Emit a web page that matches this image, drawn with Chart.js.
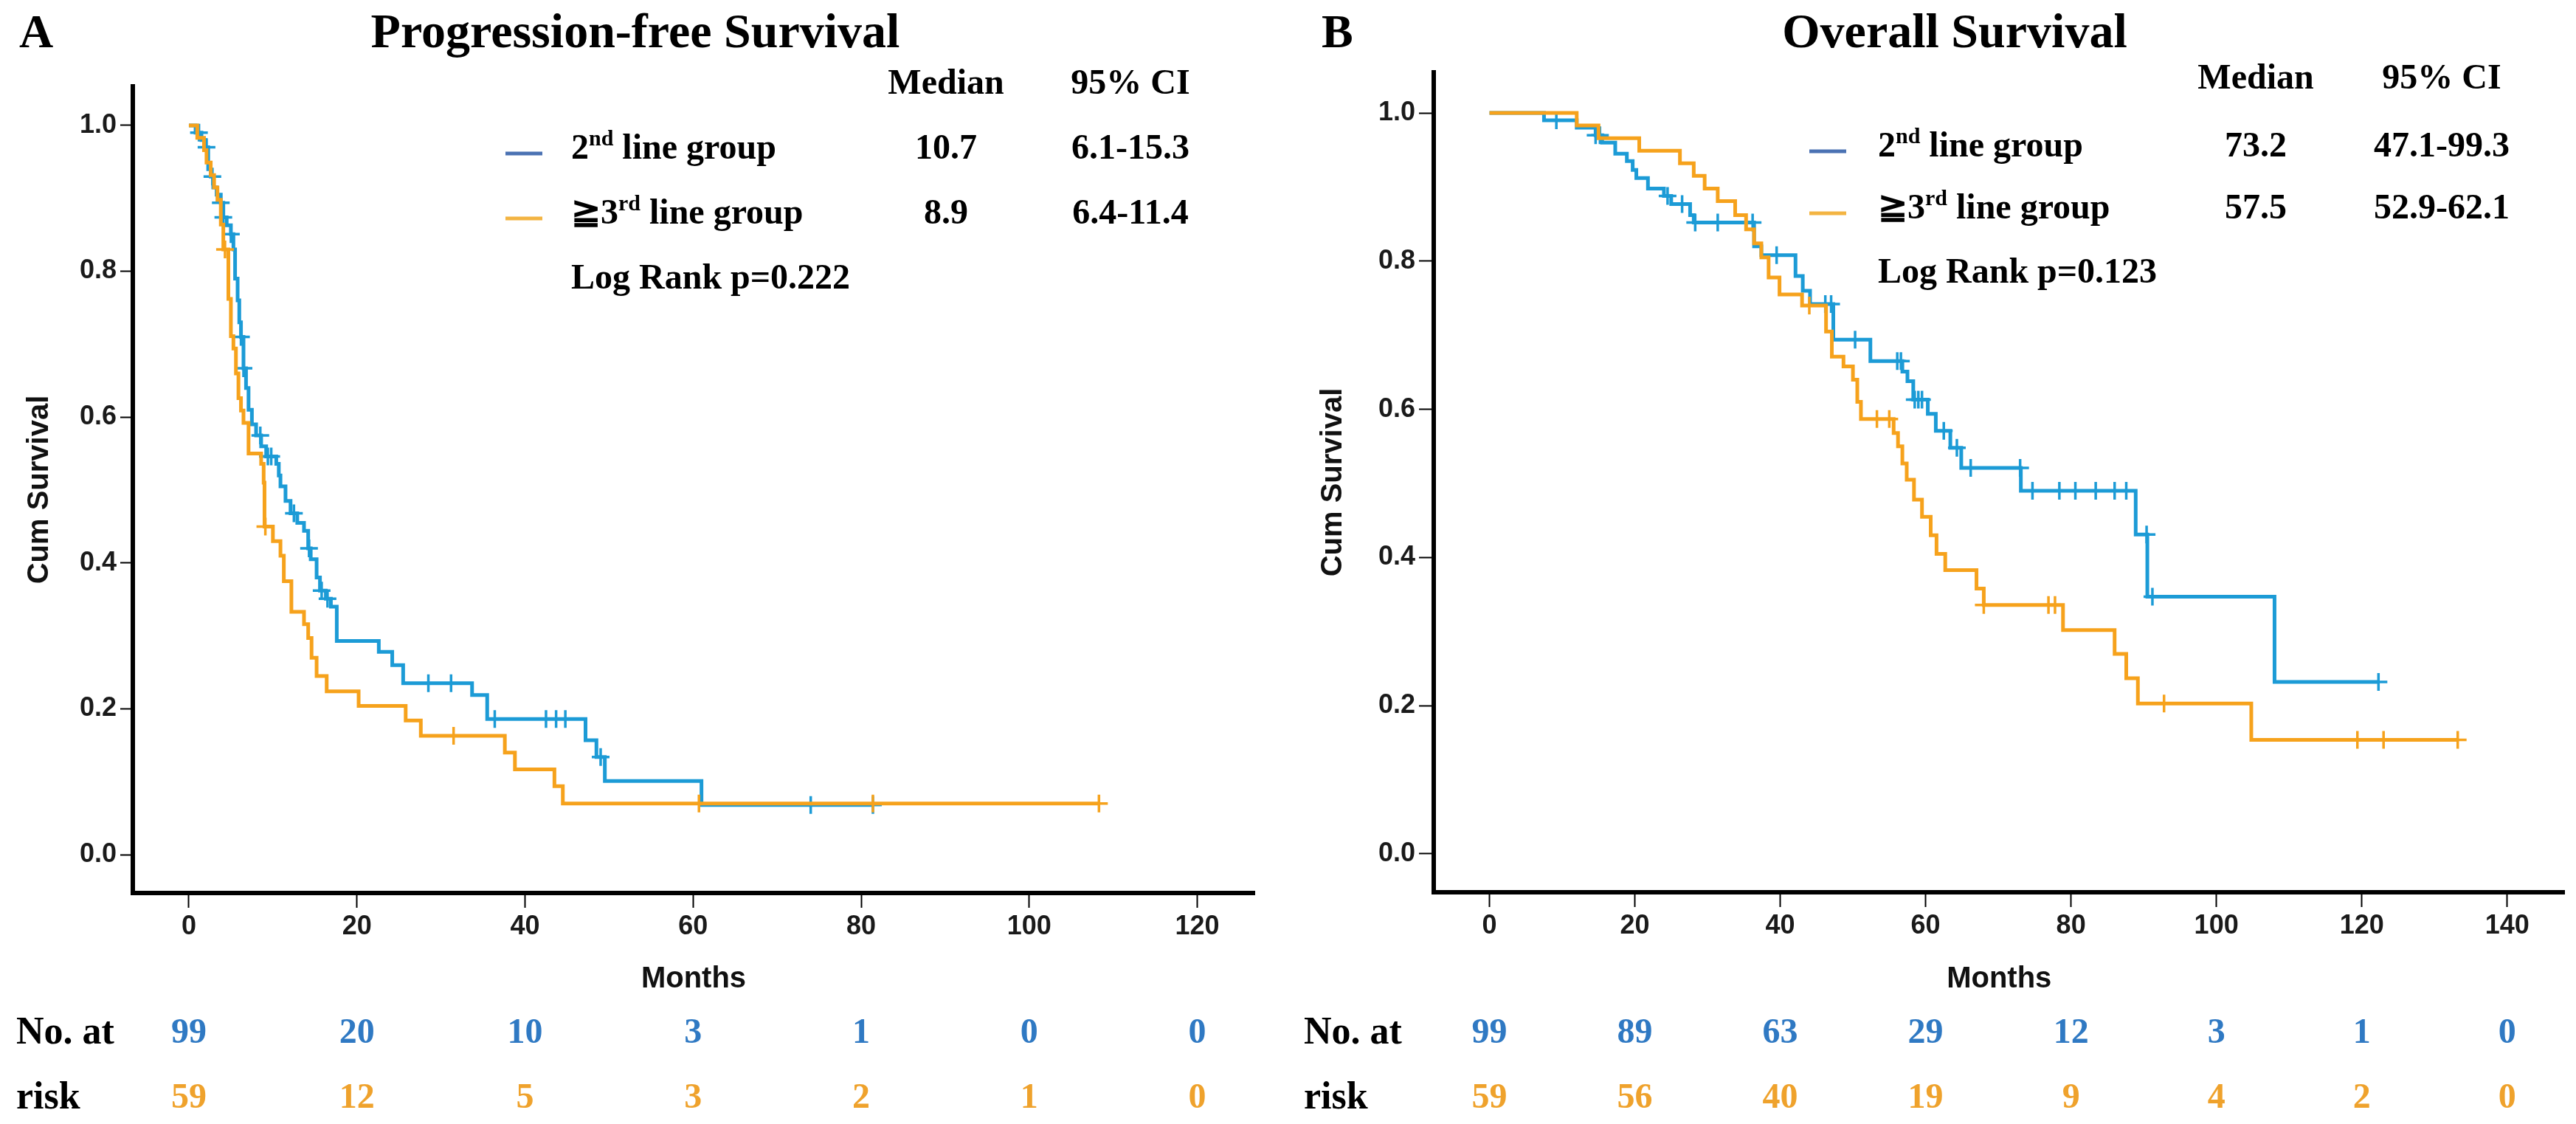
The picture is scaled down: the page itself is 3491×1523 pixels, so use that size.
<!DOCTYPE html>
<html>
<head>
<meta charset="utf-8">
<title>Kaplan-Meier</title>
<script src="https://cdn.jsdelivr.net/npm/chart.js@4.4.0/dist/chart.umd.min.js"></script>
<style>
  html, body { margin: 0; padding: 0; background: #fff; }
  #wrap { position: relative; width: 3491px; height: 1523px; overflow: hidden; background: #fff; }
  canvas { position: absolute; top: 0; }
  #pfsChart { left: 0; }
  #osChart { left: 1745px; }
</style>
</head>
<body>
<div id="wrap">
  <canvas id="pfsChart" width="1745" height="1523"></canvas>
  <canvas id="osChart" width="1746" height="1523"></canvas>
</div>
<script>
//--------------
//- DATA : Progression-free survival (months, cum survival)
//--------------
var pfsBlueTime = [0, 0.8, 1.5, 2.0, 2.3, 2.6, 2.9, 3.3, 3.8, 4.1, 4.5, 5.0, 5.3, 5.5, 5.8, 6.0, 6.2, 6.5, 6.8, 7.1, 7.5, 8.0, 8.6, 9.2, 10.4, 10.7, 10.9, 11.5, 12.1, 12.9, 13.7, 14.2, 14.5, 15.2, 15.6, 16.3, 16.9, 17.6, 22.6, 24.2, 25.5, 33.7, 35.5, 47.2, 48.5, 49.5, 61.0, 81.4];
var pfsBlueSurv = [1.0, 0.99, 0.98, 0.97, 0.94, 0.93, 0.915, 0.905, 0.894, 0.874, 0.863, 0.851, 0.83, 0.79, 0.76, 0.73, 0.71, 0.667, 0.64, 0.61, 0.59, 0.575, 0.56, 0.546, 0.536, 0.52, 0.505, 0.485, 0.468, 0.455, 0.444, 0.42, 0.405, 0.38, 0.362, 0.351, 0.34, 0.293, 0.278, 0.26, 0.235, 0.219, 0.186, 0.157, 0.134, 0.101, 0.068, 0.068];
var pfsBlueCensor = [1.2, 2.1, 2.8, 3.8, 4.1, 5.0, 6.2, 6.5, 8.5, 9.4, 9.8, 12.5, 14.3, 15.8, 16.5, 28.5, 31.2, 36.4, 42.5, 43.7, 44.8, 49.0, 74.0, 81.4];

var pfsOrangeTime = [0, 1.0, 1.8, 2.1, 2.6, 3.0, 3.4, 3.8, 4.1, 4.7, 5.0, 5.3, 5.6, 5.9, 6.2, 6.5, 7.1, 8.6, 8.9, 9.0, 10.0, 10.9, 11.3, 12.2, 13.7, 14.2, 14.6, 15.2, 16.4, 20.2, 25.8, 27.6, 37.6, 38.8, 43.5, 44.5, 108.3];
var pfsOrangeSurv = [1.0, 0.983, 0.966, 0.949, 0.932, 0.915, 0.898, 0.864, 0.83, 0.762, 0.711, 0.694, 0.66, 0.626, 0.609, 0.592, 0.55, 0.536, 0.51, 0.45, 0.43, 0.41, 0.375, 0.333, 0.316, 0.297, 0.27, 0.245, 0.224, 0.204, 0.184, 0.163, 0.14, 0.117, 0.094, 0.07, 0.07];
var pfsOrangeCensor = [4.3, 9.1, 31.5, 60.7, 81.4, 108.3];

var pfsXTicks = [0, 20, 40, 60, 80, 100, 120];
var pfsRiskBlue = [99, 20, 10, 3, 1, 0, 0];
var pfsRiskOrange = [59, 12, 5, 3, 2, 1, 0];

//--------------
//- DATA : Overall survival
//--------------
var osBlueTime = [0, 7.5, 12.0, 14.6, 15.5, 17.3, 18.9, 19.7, 20.2, 21.8, 24.0, 25.0, 27.6, 28.1, 36.4, 37.4, 42.1, 43.1, 44.1, 47.3, 52.4, 56.8, 57.5, 58.3, 60.3, 61.4, 63.4, 64.9, 73.1, 88.9, 90.5, 108.0, 122.3];
var osBlueSurv = [1.0, 0.99, 0.98, 0.97, 0.96, 0.945, 0.935, 0.923, 0.912, 0.898, 0.888, 0.877, 0.862, 0.852, 0.82, 0.808, 0.78, 0.76, 0.742, 0.694, 0.665, 0.651, 0.638, 0.613, 0.594, 0.571, 0.548, 0.521, 0.49, 0.431, 0.347, 0.232, 0.232];
var osBlueCensor = [9.2, 14.6, 15.2, 24.5, 26.5, 28.3, 31.4, 36.2, 39.5, 46.2, 47.0, 50.3, 56.1, 56.6, 58.5, 59.0, 59.5, 62.5, 64.3, 66.2, 73.0, 74.7, 78.4, 80.6, 83.4, 86.0, 87.6, 90.4, 91.2, 122.3];

var osOrangeTime = [0, 12.0, 15.0, 20.6, 26.2, 28.1, 29.6, 31.4, 33.8, 35.3, 36.4, 37.4, 38.4, 39.9, 43.0, 46.3, 47.1, 48.7, 50.0, 50.6, 51.1, 55.6, 56.2, 56.8, 57.4, 58.4, 59.5, 60.7, 61.5, 62.7, 67.0, 68.0, 78.9, 86.0, 87.6, 89.2, 104.8, 133.2];
var osOrangeSurv = [1.0, 0.983, 0.966, 0.949, 0.932, 0.915, 0.898, 0.881, 0.862, 0.843, 0.824, 0.805, 0.778, 0.755, 0.74, 0.705, 0.671, 0.658, 0.64, 0.61, 0.587, 0.568, 0.55, 0.527, 0.505, 0.478, 0.455, 0.43, 0.405, 0.383, 0.358, 0.336, 0.302, 0.27, 0.237, 0.203, 0.154, 0.154];
var osOrangeCensor = [44.0, 53.3, 55.0, 68.0, 76.9, 77.8, 92.8, 119.4, 123.0, 133.2];

var osXTicks = [0, 20, 40, 60, 80, 100, 120, 140];
var osRiskBlue = [99, 89, 63, 29, 12, 3, 1, 0];
var osRiskOrange = [59, 56, 40, 19, 9, 4, 2, 0];

var yTickValues = [0, 0.2, 0.4, 0.6, 0.8, 1.0];
var yTickLabels = ['0.0', '0.2', '0.4', '0.6', '0.8', '1.0'];

//--------------
//- STYLE
//--------------
var BLUE = '#1c9bd6';
var ORANGE = '#f6a21c';
var RISK_BLUE = '#2f79c3';
var RISK_ORANGE = '#efa22c';
var KEY_BLUE = '#4b72b3';
var KEY_ORANGE = '#f3b442';
var SERIF = '"Liberation Serif", "Times New Roman", serif';
var SANS = '"Liberation Sans Narrow", "Arial Narrow", "Liberation Sans", Arial, sans-serif';

// survival value of a step curve at time t
function stepValue(times, surv, t) {
    var s = surv[0];
    for (var i = 0; i < times.length; i++) {
        if (times[i] <= t) s = surv[i];
    }
    return s;
}

function curvePoints(times, surv) {
    return times.map(function (t, i) { return { x: t, y: surv[i] }; });
}

function censorPoints(times, surv, cens) {
    return cens.map(function (t) { return { x: t, y: stepValue(times, surv, t) }; });
}

// text with superscript parts: [[text, isSup], ...]
function drawRich(ctx, parts, x, y) {
    parts.forEach(function (p) {
        ctx.font = p[1] ? 'bold 30px ' + SERIF : 'bold 48px ' + SERIF;
        ctx.fillText(p[0], x, p[1] ? y - 14 : y);
        x += ctx.measureText(p[0]).width;
    });
}

function makeKM(canvasId, panel) {

    // titles, key table and number at risk
    var textPlugin = {
        id: 'kmText',
        afterDraw: function (chart) {
            var ctx = chart.ctx;
            var xs = chart.scales.x;
            var t = panel.text;
            ctx.save();
            ctx.fillStyle = '#000';
            ctx.textBaseline = 'middle';

            ctx.textAlign = 'left';
            ctx.font = 'bold 64px ' + SERIF;
            ctx.fillText(panel.letter, t.letterX, 47);

            ctx.textAlign = 'center';
            ctx.font = 'bold 66px ' + SERIF;
            ctx.fillText(panel.title, t.titleX, 47);

            ctx.font = 'bold 48px ' + SERIF;
            ctx.fillText('Median', t.medX, t.headY);
            ctx.fillText('95% CI', t.ciX, t.headY);
            ctx.fillText(panel.medians[0], t.medX, t.row1Y);
            ctx.fillText(panel.cis[0], t.ciX, t.row1Y);
            ctx.fillText(panel.medians[1], t.medX, t.row2Y);
            ctx.fillText(panel.cis[1], t.ciX, t.row2Y);

            // key lines
            ctx.lineWidth = 5;
            ctx.strokeStyle = KEY_BLUE;
            ctx.beginPath();
            ctx.moveTo(t.keyX, t.row1Y + 5);
            ctx.lineTo(t.keyX + 50, t.row1Y + 5);
            ctx.stroke();
            ctx.strokeStyle = KEY_ORANGE;
            ctx.beginPath();
            ctx.moveTo(t.keyX, t.row2Y + 5);
            ctx.lineTo(t.keyX + 50, t.row2Y + 5);
            ctx.stroke();

            ctx.textAlign = 'left';
            drawRich(ctx, [['2', false], ['nd', true], [' line group', false]], t.textX, t.row1Y);
            drawRich(ctx, [['\u22673', false], ['rd', true], [' line group', false]], t.textX, t.row2Y);
            ctx.font = 'bold 48px ' + SERIF;
            ctx.fillText(panel.logRank, t.textX, t.logY);

            // number at risk
            ctx.font = 'bold 52px ' + SERIF;
            ctx.fillText('No. at', 22, 1401);
            ctx.fillText('risk', 22, 1489);
            ctx.textAlign = 'center';
            ctx.font = 'bold 48px ' + SERIF;
            panel.xTicks.forEach(function (v, i) {
                var px = xs.getPixelForValue(v);
                ctx.fillStyle = RISK_BLUE;
                ctx.fillText(String(panel.riskBlue[i]), px, 1401);
                ctx.fillStyle = RISK_ORANGE;
                ctx.fillText(String(panel.riskOrange[i]), px, 1489);
            });
            ctx.restore();
        }
    };

    var g = panel.box;
    var H = 1523;

    new Chart(document.getElementById(canvasId), {
        type: 'scatter',
        data: {
            datasets: [
                {
                    data: curvePoints(panel.orangeT, panel.orangeS),
                    showLine: true, stepped: true,
                    borderColor: ORANGE, borderWidth: 5, pointRadius: 0
                },
                {
                    data: censorPoints(panel.orangeT, panel.orangeS, panel.orangeC),
                    showLine: false, pointStyle: 'cross', pointRadius: 12,
                    borderColor: ORANGE, borderWidth: 3.5
                },
                {
                    data: curvePoints(panel.blueT, panel.blueS),
                    showLine: true, stepped: true,
                    borderColor: BLUE, borderWidth: 5, pointRadius: 0
                },
                {
                    data: censorPoints(panel.blueT, panel.blueS, panel.blueC),
                    showLine: false, pointStyle: 'cross', pointRadius: 12,
                    borderColor: BLUE, borderWidth: 3.5
                }
            ]
        },
        options: {
            responsive: false,
            devicePixelRatio: 1,
            animation: false,
            layout: { padding: { top: g.top, right: g.right, left: 0, bottom: 0 } },
            plugins: { legend: { display: false }, tooltip: { enabled: false } },
            scales: {
                x: {
                    type: 'linear',
                    min: g.xMin, max: g.xMax,
                    afterFit: function (s) { s.height = H - g.bottom; },
                    afterBuildTicks: function (s) {
                        s.ticks = panel.xTicks.map(function (v) { return { value: v }; });
                    },
                    ticks: {
                        color: '#1a1a1a', padding: 4, maxRotation: 0,
                        font: { family: SANS, size: 36, weight: 'bold' },
                        callback: function (v) { return String(v); }
                    },
                    grid: {
                        drawOnChartArea: false, drawTicks: true, tickLength: 20,
                        tickColor: '#000', tickWidth: 2
                    },
                    border: { display: true, color: '#000', width: 6 },
                    title: {
                        display: true, text: 'Months', color: '#111',
                        font: { family: SANS, size: 40, weight: 'bold' },
                        padding: { top: 0, bottom: 172 }
                    }
                },
                y: {
                    type: 'linear',
                    min: g.yMin, max: g.yMax,
                    afterFit: function (s) { s.width = g.left; },
                    afterBuildTicks: function (s) {
                        s.ticks = yTickValues.map(function (v) { return { value: v }; });
                    },
                    ticks: {
                        color: '#1a1a1a', padding: 5,
                        font: { family: SANS, size: 36, weight: 'bold' },
                        callback: function (v, i) { return yTickLabels[i]; }
                    },
                    grid: {
                        drawOnChartArea: false, drawTicks: true, tickLength: g.yTick,
                        tickColor: '#000', tickWidth: 2
                    },
                    border: { display: true, color: '#000', width: 6 },
                    title: {
                        display: true, text: 'Cum Survival', color: '#111',
                        font: { family: SANS, size: 40, weight: 'bold' },
                        padding: { top: g.yTitlePad, bottom: 0 }
                    }
                }
            }
        },
        plugins: [textPlugin]
    });
}

//-------------
//- PANEL A : PFS
//-------------
makeKM('pfsChart', {
    letter: 'A', title: 'Progression-free Survival',
    medians: ['10.7', '8.9'], cis: ['6.1-15.3', '6.4-11.4'],
    logRank: 'Log Rank p=0.222',
    blueT: pfsBlueTime, blueS: pfsBlueSurv, blueC: pfsBlueCensor,
    orangeT: pfsOrangeTime, orangeS: pfsOrangeSurv, orangeC: pfsOrangeCensor,
    xTicks: pfsXTicks, riskBlue: pfsRiskBlue, riskOrange: pfsRiskOrange,
    box: { left: 180, right: 45, top: 117, bottom: 1210, xMin: -6.67, xMax: 126.8, yMin: -0.0526, yMax: 1.0536, yTick: 17, yTitlePad: 30 },
    text: { letterX: 26, titleX: 861, medX: 1282, ciX: 1532, headY: 115, row1Y: 203, row2Y: 291, logY: 379, keyX: 685, textX: 774 }
});

//-------------
//- PANEL B : OS
//-------------
makeKM('osChart', {
    letter: 'B', title: 'Overall Survival',
    medians: ['73.2', '57.5'], cis: ['47.1-99.3', '52.9-62.1'],
    logRank: 'Log Rank p=0.123',
    blueT: osBlueTime, blueS: osBlueSurv, blueC: osBlueCensor,
    orangeT: osOrangeTime, orangeS: osOrangeSurv, orangeC: osOrangeCensor,
    xTicks: osXTicks, riskBlue: osRiskBlue, riskOrange: osRiskOrange,
    box: { left: 198, right: 6, top: 98, bottom: 1209, xMin: -7.67, xMax: 147.9, yMin: -0.0518, yMax: 1.0548, yTick: 20, yTitlePad: 38 },
    text: { letterX: 46, titleX: 904, medX: 1312, ciX: 1564, headY: 108, row1Y: 200, row2Y: 284, logY: 371, keyX: 707, textX: 800 }
});
</script>
</body>
</html>
